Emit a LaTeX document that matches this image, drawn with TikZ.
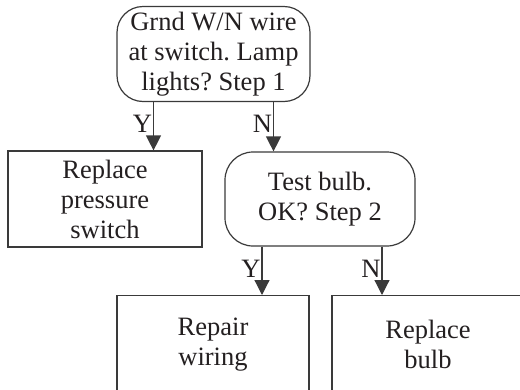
\documentclass[tikz,border=0pt]{standalone}
\usepackage{fontspec}
\setmainfont{Liberation Serif}
\usepackage{xcolor}
\usepackage{tikz}
\usetikzlibrary{arrows.meta,positioning,calc}
\definecolor{fcline}{HTML}{3A3A3A}
\definecolor{fctext}{HTML}{231F20}
\frenchspacing

\begin{document}
\begin{tikzpicture}[
  x=1pt, y=1pt,
  font=\fontsize{26.5}{30}\selectfont,
  text=fctext,
  decision/.style={rounded corners=26pt, draw=fcline, line width=1.2pt, align=center, inner sep=2pt},
  action/.style={draw=fcline, line width=1.2pt, align=center, inner sep=2pt},
  arr/.style={-{Triangle[width=15pt,length=15pt]}, line width=1.2pt, draw=fcline},
  lbl/.style={left, inner sep=1pt, pos=0.45}
]
\useasboundingbox (0,0) rectangle (520,-389);
\clip (0,0) rectangle (520,-389);
\node[decision, minimum width=193, minimum height=95] (step1) at (213.5,-54) {Grnd W/N wire\\at switch. Lamp\\lights? Step 1};
\node[action, minimum width=194, minimum height=96] (pswitch) at (105,-199) {Replace\\pressure\\switch};
\node[decision, rounded corners=28pt, minimum width=190, minimum height=94] (step2) at (320,-199) {Test bulb.\\OK? Step 2};
\node[action, anchor=north, minimum width=192, minimum height=98] (wiring) at (213,-295) {Repair\\wiring};
\node[action, anchor=north, minimum width=192, minimum height=98] (bulb) at (428,-295) {Replace\\bulb};
\draw[arr] ([xshift=-60]step1.south) -- ([xshift=-60]step1.south |- pswitch.north) node[lbl] (y1) {Y};
\draw[arr] ([xshift=60]step1.south) -- ([xshift=60]step1.south |- step2.north) node[lbl] (n1) {N};
\draw[arr] ([xshift=-58]step2.south) -- ([xshift=-58]step2.south |- wiring.north) node[lbl] (y2) {Y};
\draw[arr] ([xshift=62]step2.south) -- ([xshift=62]step2.south |- bulb.north) node[lbl] (n2) {N};
\end{tikzpicture}
\end{document}
